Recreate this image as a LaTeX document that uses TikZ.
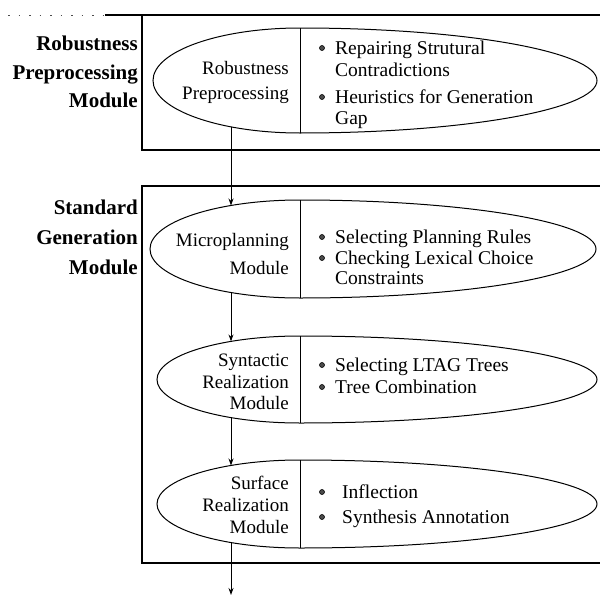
\documentclass[tikz,border=0pt]{standalone}
\usepackage{fontspec}
\setmainfont{Liberation Serif}
\usetikzlibrary{arrows.meta}
\newcommand\splitellipse[4]{% cy, ry, rl, rr
  \draw[ell] (300,#1-#2) arc[start angle=-90,end angle=90,x radius=#4,y radius=#2]
                          arc[start angle=90,end angle=270,x radius=#3,y radius=#2] -- cycle;
  \draw[ell] (300,#1-#2) -- (300,#1+#2);}
\begin{document}
\begin{tikzpicture}[x=1pt,y=-1pt,
  lbl/.style={anchor=base east,font=\fontsize{21}{29}\selectfont\bfseries,inner sep=0},
  inl/.style={anchor=base east,font=\fontsize{19}{22}\selectfont,inner sep=0},
  itm/.style={anchor=base west,font=\fontsize{19.5}{22}\selectfont,inner sep=0},
  frame/.style={line width=1.1pt},
  ell/.style={line width=1pt},
  flow/.style={line width=0.9pt,-{Stealth[length=7pt,width=5pt]}},
  bul/.style={circle,fill=black!70,draw=black,line width=0.6pt,inner sep=0,minimum size=5pt}]
\useasboundingbox (0,0) rectangle (600,597);

% module frames
\draw[line width=0.8pt,black!70,dash pattern=on 1.5pt off 9pt] (8,15) -- (105,15);
\draw[frame] (610,15) -- (105,15);
\draw[frame] (142,15) -- (142,150) -- (610,150);
\draw[frame] (610,186) -- (142,186) -- (142,563) -- (610,563);

% split ellipses
\splitellipse{80.5}{52.5}{147}{297}
\splitellipse{249}{49}{150}{296}
\splitellipse{379.5}{43.5}{143}{297}
\splitellipse{504}{44}{143}{297}

% module labels
\node[lbl] (rpm1) at (138,50) {Robustness};
\node[lbl] (rpm2) at (138,79) {Preprocessing};
\node[lbl] (rpm3) at (138,107) {Module};
\node[lbl] (sgm1) at (138,214) {Standard};
\node[lbl] (sgm2) at (138,244) {Generation};
\node[lbl] (sgm3) at (138,274) {Module};

% inner names
\node[inl] (rp1) at (289,74) {Robustness};
\node[inl] (rp2) at (289,99) {Preprocessing};
\node[inl] (mi1) at (289,246) {Microplanning};
\node[inl] (mi2) at (289,274) {Module};
\node[inl] (sy1) at (289,366) {Syntactic};
\node[inl] (sy2) at (289,388) {Realization};
\node[inl] (sy3) at (289,409) {Module};
\node[inl] (su1) at (289,489) {Surface};
\node[inl] (su2) at (289,511) {Realization};
\node[inl] (su3) at (289,533) {Module};

% items
\node[bul] (b1) at (322,48) {};
\node[itm] (t1) at (335,54) {Repairing Strutural};
\node[itm] (t1b) at (335,76) {Contradictions};
\node[bul] (b2) at (322,97) {};
\node[itm] (t2) at (335,103) {Heuristics for Generation};
\node[itm] (t2b) at (335,124) {Gap};

\node[bul] (b3) at (322,237) {};
\node[itm] (t3) at (335,243) {Selecting Planning Rules};
\node[bul] (b4) at (322,258) {};
\node[itm] (t4) at (335,264) {Checking Lexical Choice};
\node[itm] (t4b) at (335,284) {Constraints};

\node[bul] (b5) at (322,365) {};
\node[itm] (t5) at (335,371) {Selecting LTAG Trees};
\node[bul] (b6) at (322,387) {};
\node[itm] (t6) at (335,393) {Tree Combination};

\node[bul] (b7) at (322,492) {};
\node[itm] (t7) at (342,498) {Inflection};
\node[bul] (b8) at (322,517) {};
\node[itm] (t8) at (342,523) {Synthesis Annotation};

% connectors
\coordinate (rpB) at (231,126.9);
\coordinate (miT) at (231,205.5);
\coordinate (miB) at (231,292.5);
\coordinate (syT) at (231,341.4);
\coordinate (syB) at (231,417.6);
\coordinate (suT) at (231,465.5);
\coordinate (suB) at (231,542.5);
\coordinate (out) at (231,595);
\draw[flow] (rpB) -- (miT);
\draw[flow] (miB) -- (syT);
\draw[flow] (syB) -- (suT);
\draw[flow] (suB) -- (out);
\end{tikzpicture}
\end{document}
